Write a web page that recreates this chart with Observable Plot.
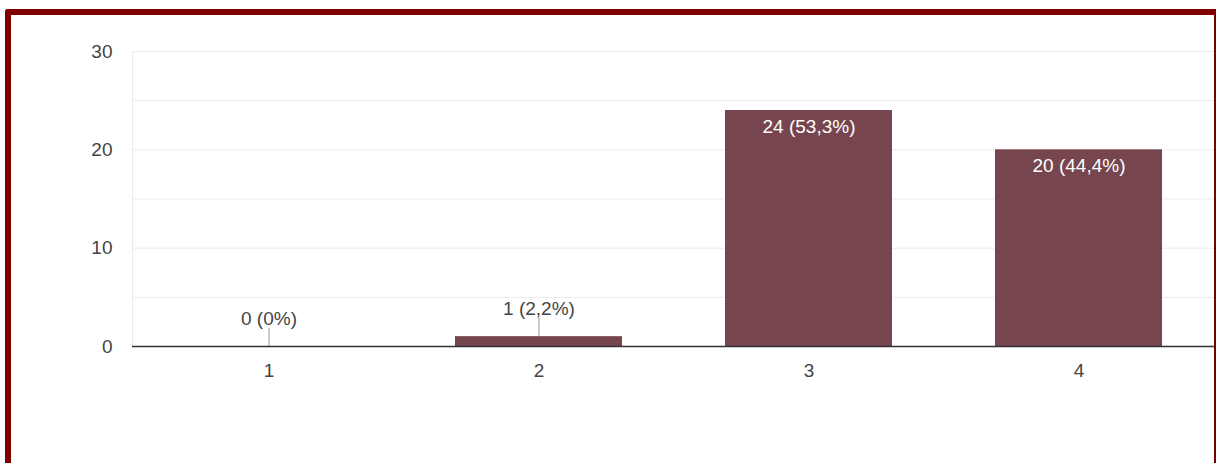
<!DOCTYPE html>
<html>
<head>
<meta charset="utf-8">
<script src="https://cdn.jsdelivr.net/npm/d3@7"></script>
<script src="https://cdn.jsdelivr.net/npm/@observablehq/plot@0.6"></script>
<style>
  html, body { margin: 0; padding: 0; background: #fff; }
  #wrap { position: relative; width: 1217px; height: 463px; overflow: hidden; }
  #chart { position: absolute; left: 0; top: 0; }
  #border {
    position: absolute; left: 5px; top: 9px; width: 1203px; height: 480px;
    border-left: 6px solid #800000; border-top: 6px solid #800000; border-right: 2px solid #7a0000;
    border-top-left-radius: 3px; pointer-events: none;
  }
</style>
</head>
<body>
<div id="wrap">
  <div id="chart"></div>
  <div id="border"></div>
</div>
<script>
// Answers on the 1–4 scale and how many respondents picked each
const answers = ["1", "2", "3", "4"];
const counts = [0, 1, 24, 20];
// Light horizontal guide lines
const gridLines = [5, 10, 15, 20, 25, 30];

const total = d3.sum(counts);
const pctFormat = d3.formatLocale({decimal: ",", thousands: ".", grouping: [3], currency: ["", ""]}).format(".1~f");
const rows = answers.map((a, i) => ({
  answer: a,
  count: counts[i],
  label: `${counts[i]} (${pctFormat(counts[i] / total * 100)}%)`
}));
// Short bars get their label above with a leader line; tall bars carry it inside
const inside = rows.filter(d => d.count >= 5);
const outside = rows.filter(d => d.count < 5);

const barColor = "#76454e";
const font = "'Liberation Sans', Arial, sans-serif";

const chart = Plot.plot({
  width: 1217,
  height: 400,
  marginLeft: 132,
  marginRight: 2,
  marginTop: 51,
  marginBottom: 54,
  style: {fontFamily: font, fontSize: "19px", color: "#444", background: "transparent"},
  x: {domain: answers, paddingInner: 0.383, paddingOuter: 0.19, label: null, tickSize: 0, tickPadding: 17},
  y: {domain: [0, 30], ticks: 3, label: null, tickSize: 0, tickPadding: 20},
  marks: [
    Plot.ruleY(gridLines, {stroke: "#ebebeb", strokeWidth: 1}),
    Plot.frame({anchor: "left", stroke: "#ebebeb"}),
    Plot.barY(rows, {x: "answer", y: "count", fill: barColor}),
    Plot.ruleX(outside, {x: "answer", y1: "count", y2: "count", insetTop: -18, stroke: "#999", strokeWidth: 1}),
    Plot.ruleY([0], {stroke: "#333", strokeWidth: 1.6}),
    Plot.text(outside, {x: "answer", y: "count", text: "label", dy: -28, fill: "#444", fontSize: 19, fontFamily: font}),
    Plot.text(inside, {x: "answer", y: "count", text: "label", dy: 16, fill: "#fff", fontSize: 19, fontFamily: font})
  ]
});
document.getElementById("chart").append(chart);
</script>
</body>
</html>
